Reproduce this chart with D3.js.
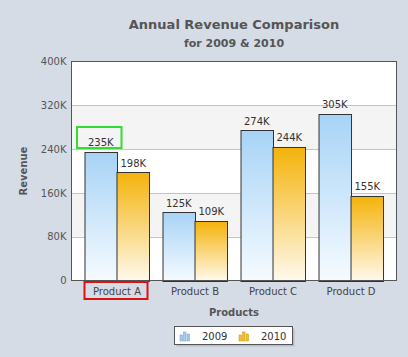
<!DOCTYPE html>
<html><head><meta charset="utf-8">
<script src="https://cdn.jsdelivr.net/npm/d3@7"></script>
<style>body{margin:0;background:#d6dce6;}svg{display:block;}</style>
</head><body>
<svg id="c" width="408" height="357"></svg>
<script>
const categories = ["Product A","Product B","Product C","Product D"];
const seriesNames = ["2009","2010"];
const values2009 = [235,125,274,305];
const values2010 = [198,109,244,155];
const yTicks = [0,80,160,240,320,400];
const yTickLabels = ["0","80K","160K","240K","320K","400K"];

const svg = d3.select("#c");
const W=408,H=357;
const font = "DejaVu Sans, Verdana, sans-serif";
const m = {l:71.5, r:396.5, t:61.5, b:280.5};
svg.append("rect").attr("width",W).attr("height",H).attr("fill","#d6dce6");

const y = d3.scaleLinear().domain([0,400]).range([m.b,m.t]);
const x0 = d3.scaleBand().domain(categories).range([m.l+6.5,m.r-6.5]).paddingInner(0.167).paddingOuter(0.0833);
const x1 = d3.scaleBand().domain(seriesNames).range([0,x0.bandwidth()]);

const defs = svg.append("defs");
const g1 = defs.append("linearGradient").attr("id","gb").attr("x1",0).attr("y1",0).attr("x2",0).attr("y2",1);
g1.append("stop").attr("offset","0%").attr("stop-color","#a7d3f6");
g1.append("stop").attr("offset","100%").attr("stop-color","#f6fbff");
const g2 = defs.append("linearGradient").attr("id","go").attr("x1",0).attr("y1",0).attr("x2",0).attr("y2",1);
g2.append("stop").attr("offset","0%").attr("stop-color","#f4b30a");
g2.append("stop").attr("offset","100%").attr("stop-color","#fffaee");

// plot background with alternating bands
svg.append("rect").attr("x",m.l).attr("y",m.t).attr("width",m.r-m.l).attr("height",m.b-m.t).attr("fill","#ffffff");
for(let i=0;i<yTicks.length-1;i++){
  if(i%2===1){
    svg.append("rect").attr("x",m.l).attr("y",y(yTicks[i+1])).attr("width",m.r-m.l)
      .attr("height",y(yTicks[i])-y(yTicks[i+1])).attr("fill","#f4f4f4");
  }
}
// gridlines
svg.append("g").selectAll("line").data(yTicks.slice(1,-1)).join("line")
  .attr("x1",m.l).attr("x2",m.r).attr("y1",d=>Math.round(y(d))+0.5).attr("y2",d=>Math.round(y(d))+0.5)
  .attr("stroke","#c4c4c4").attr("stroke-width",1);

// y axis labels
const yAxis = d3.axisLeft(y).tickValues(yTicks).tickFormat((d,i)=>yTickLabels[i]).tickSize(0).tickPadding(5);
const ya = svg.append("g").attr("transform",`translate(${m.l},0)`).call(yAxis);
ya.select(".domain").remove();
ya.selectAll("text").attr("font-family",font).attr("font-size","10px").attr("fill","#555");

// bars
const rows = categories.map((c,i)=>({c, v:[values2009[i],values2010[i]]}));
const grp = svg.append("g").selectAll("g").data(rows).join("g").attr("transform",d=>`translate(${x0(d.c)},0)`);
grp.selectAll("rect").data(d=>d.v.map((v,j)=>({s:seriesNames[j],v,j}))).join("rect")
  .attr("x",d=>Math.round(x1(d.s))+0.5).attr("y",d=>Math.round(y(d.v))+0.5)
  .attr("width",x1.bandwidth()).attr("height",d=>Math.round(m.b)-Math.round(y(d.v)))
  .attr("fill",d=>d.j===0?"url(#gb)":"url(#go)").attr("stroke","#333").attr("stroke-width",1);
grp.selectAll("text").data(d=>d.v.map((v,j)=>({s:seriesNames[j],v,j}))).join("text")
  .attr("x",d=>x1(d.s)+x1.bandwidth()/2).attr("y",d=>y(d.v)-5.5)
  .attr("text-anchor","middle").attr("font-family",font).attr("font-size","10px").attr("fill","#333")
  .text(d=>d.v+"K");

// plot border
svg.append("rect").attr("x",m.l).attr("y",m.t).attr("width",m.r-m.l).attr("height",m.b-m.t)
  .attr("fill","none").attr("stroke","#555").attr("stroke-width",1);

// x axis labels
const xAxis = d3.axisBottom(x0).tickSize(0).tickPadding(7);
const xa = svg.append("g").attr("transform",`translate(0,${m.b})`).call(xAxis);
xa.select(".domain").remove();
xa.selectAll("text").attr("font-family",font).attr("font-size","10px").attr("fill","#444");

// titles
const cx=(m.l+m.r)/2;
svg.append("text").attr("x",cx).attr("y",29).attr("text-anchor","middle").attr("font-family",font)
  .attr("font-size","13px").attr("font-weight","bold").attr("fill","#555").text("Annual Revenue Comparison");
svg.append("text").attr("x",cx).attr("y",47).attr("text-anchor","middle").attr("font-family",font)
  .attr("font-size","11px").attr("font-weight","bold").attr("fill","#555").text("for 2009 & 2010");
svg.append("text").attr("x",cx).attr("y",316).attr("text-anchor","middle").attr("font-family",font)
  .attr("font-size","10px").attr("font-weight","bold").attr("fill","#555").text("Products");
svg.append("text").attr("transform",`translate(27,${(m.t+m.b)/2}) rotate(-90)`).attr("text-anchor","middle").attr("font-family",font)
  .attr("font-size","10px").attr("font-weight","bold").attr("fill","#555").text("Revenue");

// legend
const lg = svg.append("g");
lg.append("rect").attr("x",176.5).attr("y",328.5).attr("width",118).attr("height",18).attr("fill","#aab0ba").attr("opacity",0.7);
lg.append("rect").attr("x",174.5).attr("y",326.5).attr("width",118).attr("height",18).attr("fill","#fff").attr("stroke","#555");
const legendColors=[["#a9cbe8","#6f9cc8"],["#f0c030","#c8960a"]];
const lx=[180,239];
seriesNames.forEach((s,i)=>{
  const hs=[6,9,7];
  hs.forEach((h,k)=>{
    lg.append("rect").attr("x",lx[i]+k*3.5).attr("y",341-h).attr("width",2.5).attr("height",h)
      .attr("fill",legendColors[i][0]).attr("stroke",legendColors[i][1]).attr("stroke-width",0.5);
  });
  lg.append("text").attr("x",lx[i]+22).attr("y",339.5).attr("font-family",font).attr("font-size","10px")
    .attr("fill","#333").text(s);
});

// annotation boxes
const bA = x0(categories[0]);
svg.append("rect").attr("x",bA-7.5).attr("y",127).attr("width",44.5).attr("height",21)
  .attr("fill","none").attr("stroke","#33dd33").attr("stroke-width",2);
svg.append("rect").attr("x",bA).attr("y",282).attr("width",63).attr("height",17)
  .attr("fill","none").attr("stroke","#dd1111").attr("stroke-width",2);
</script>
</body></html>
